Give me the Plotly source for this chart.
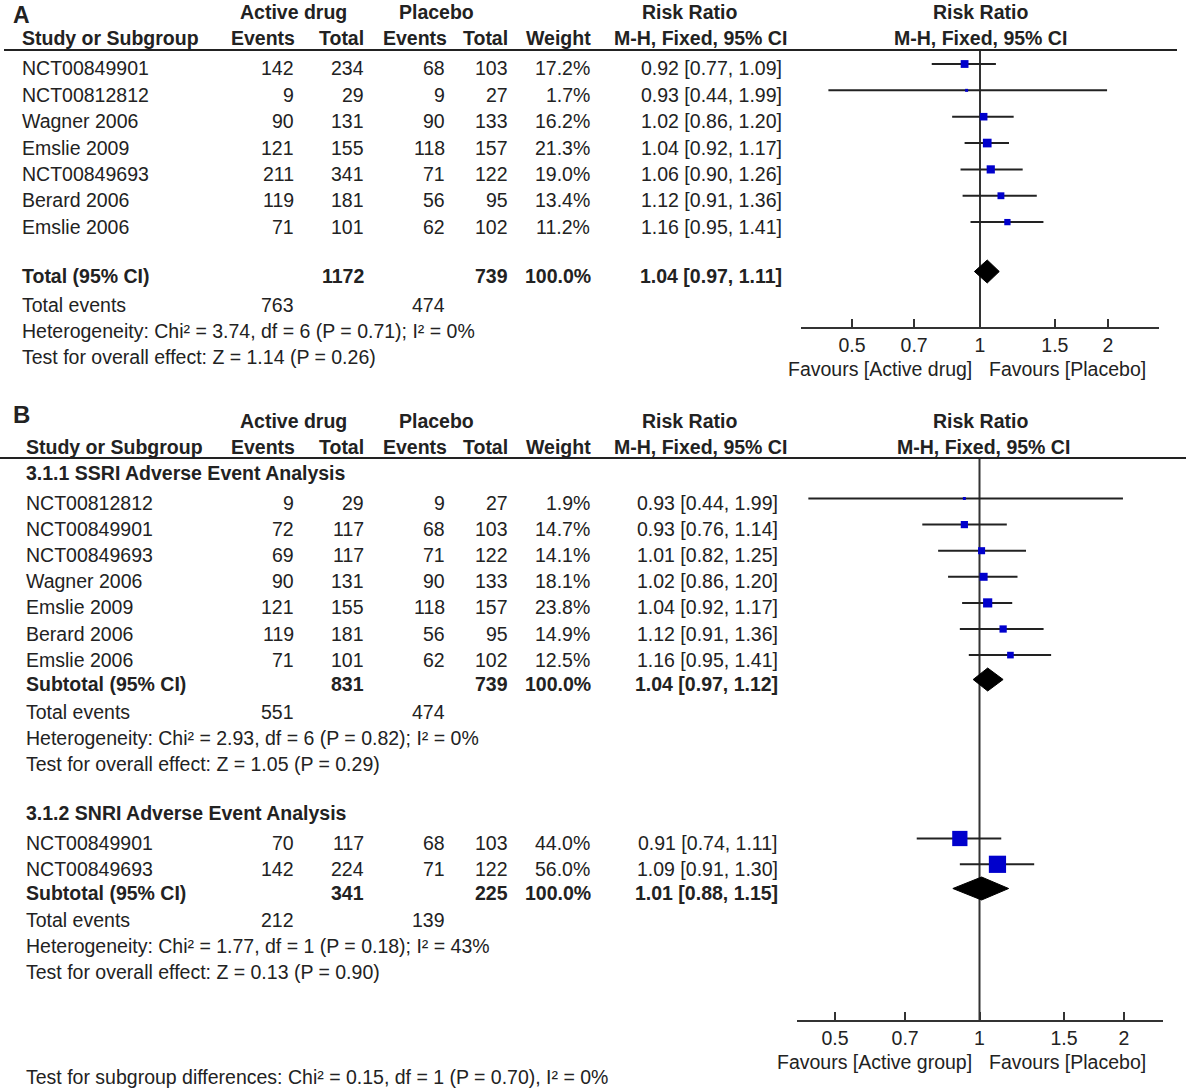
import math
import plotly.graph_objects as go

W, H = 1186, 1090

# ---------------- DATA ----------------
# Panel A
A_study = ["NCT00849901", "NCT00812812", "Wagner 2006", "Emslie 2009", "NCT00849693", "Berard 2006", "Emslie 2006"]
A_ev_act = [142, 9, 90, 121, 211, 119, 71]
A_tot_act = [234, 29, 131, 155, 341, 181, 101]
A_ev_pl = [68, 9, 90, 118, 71, 56, 62]
A_tot_pl = [103, 27, 133, 157, 122, 95, 102]
A_weight = [17.2, 1.7, 16.2, 21.3, 19.0, 13.4, 11.2]
A_rr = [0.92, 0.93, 1.02, 1.04, 1.06, 1.12, 1.16]
A_lo = [0.77, 0.44, 0.86, 0.92, 0.90, 0.91, 0.95]
A_hi = [1.09, 1.99, 1.20, 1.17, 1.26, 1.36, 1.41]
A_total = dict(tot_act=1172, tot_pl=739, weight=100.0, rr=1.04, lo=0.97, hi=1.11, ev_act=763, ev_pl=474)
A_het = "Heterogeneity: Chi² = 3.74, df = 6 (P = 0.71); I² = 0%"
A_test = "Test for overall effect: Z = 1.14 (P = 0.26)"

# Panel B, subgroup 3.1.1
S1_name = "3.1.1 SSRI Adverse Event Analysis"
S1_study = ["NCT00812812", "NCT00849901", "NCT00849693", "Wagner 2006", "Emslie 2009", "Berard 2006", "Emslie 2006"]
S1_ev_act = [9, 72, 69, 90, 121, 119, 71]
S1_tot_act = [29, 117, 117, 131, 155, 181, 101]
S1_ev_pl = [9, 68, 71, 90, 118, 56, 62]
S1_tot_pl = [27, 103, 122, 133, 157, 95, 102]
S1_weight = [1.9, 14.7, 14.1, 18.1, 23.8, 14.9, 12.5]
S1_rr = [0.93, 0.93, 1.01, 1.02, 1.04, 1.12, 1.16]
S1_lo = [0.44, 0.76, 0.82, 0.86, 0.92, 0.91, 0.95]
S1_hi = [1.99, 1.14, 1.25, 1.20, 1.17, 1.36, 1.41]
S1_total = dict(tot_act=831, tot_pl=739, weight=100.0, rr=1.04, lo=0.97, hi=1.12, ev_act=551, ev_pl=474)
S1_het = "Heterogeneity: Chi² = 2.93, df = 6 (P = 0.82); I² = 0%"
S1_test = "Test for overall effect: Z = 1.05 (P = 0.29)"

# Panel B, subgroup 3.1.2
S2_name = "3.1.2 SNRI Adverse Event Analysis"
S2_study = ["NCT00849901", "NCT00849693"]
S2_ev_act = [70, 142]
S2_tot_act = [117, 224]
S2_ev_pl = [68, 71]
S2_tot_pl = [103, 122]
S2_weight = [44.0, 56.0]
S2_rr = [0.91, 1.09]
S2_lo = [0.74, 0.91]
S2_hi = [1.11, 1.30]
S2_total = dict(tot_act=341, tot_pl=225, weight=100.0, rr=1.01, lo=0.88, hi=1.15, ev_act=212, ev_pl=139)
S2_het = "Heterogeneity: Chi² = 1.77, df = 1 (P = 0.18); I² = 43%"
S2_test = "Test for overall effect: Z = 0.13 (P = 0.90)"

B_subgroup_test = "Test for subgroup differences: Chi² = 0.15, df = 1 (P = 0.70), I² = 0%"

tick_vals = [0.5, 0.7, 1, 1.5, 2]
tick_text = ["0.5", "0.7", "1", "1.5", "2"]

# ---------------- STYLE ----------------
FONT = "Liberation Sans, Arial, sans-serif"
TXT = "#222222"
FS = 19.5
BLUE = "#0000CC"
LINE = "#222222"

ann = []
shapes = []


def txt(s, x, y, anchor="left", bold=False, size=FS, yanchor="middle"):
    ann.append(dict(text=(f"<b>{s}</b>" if bold else s), x=x / W, y=1 - y / H,
                    xref="paper", yref="paper", xanchor=anchor, yanchor=yanchor,
                    showarrow=False, font=dict(family=FONT, size=size, color=TXT)))


def hline(y, x0, x1):
    shapes.append(dict(type="line", xref="paper", yref="paper", x0=x0 / W, x1=x1 / W,
                       y0=1 - y / H, y1=1 - y / H, line=dict(color=LINE, width=2)))


# column right edges
C_EVA, C_TOA, C_EVP, C_TOP, C_W = 296, 366, 447, 510, 592


def ci(rr, lo, hi):
    return f"{rr:.2f} [{lo:.2f}, {hi:.2f}]"


def header(y1, y2, name_x, mh_center):
    txt("Active drug", 293, y1, "center", True)
    txt("Placebo", 437, y1, "center", True)
    txt("Risk Ratio", 689, y1, "center", True)
    txt("Risk Ratio", 980, y1, "center", True)
    txt("Study or Subgroup", name_x, y2, "left", True)
    txt("Events", 297, y2, "right", True)
    txt("Total", 366, y2, "right", True)
    txt("Events", 449, y2, "right", True)
    txt("Total", 510, y2, "right", True)
    txt("Weight", 593, y2, "right", True)
    txt("M-H, Fixed, 95% CI", 789, y2, "right", True)
    txt("M-H, Fixed, 95% CI", mh_center, y2, "center", True)


def study_rows(ys, name_x, ci_x, study, eva, toa, evp, top, w, rr, lo, hi):
    for i, y in enumerate(ys):
        txt(study[i], name_x, y)
        txt(str(eva[i]), C_EVA, y, "right")
        txt(str(toa[i]), C_TOA, y, "right")
        txt(str(evp[i]), C_EVP, y, "right")
        txt(str(top[i]), C_TOP, y, "right")
        txt(f"{w[i]:.1f}%", C_W, y, "right")
        txt(ci(rr[i], lo[i], hi[i]), ci_x, y, "right")


def total_rows(label, y_tot, y_ev, y_het, y_test, name_x, ci_x, tot, het, test):
    txt(label, name_x, y_tot, "left", True)
    txt(str(tot["tot_act"]), C_TOA, y_tot, "right", True)
    txt(str(tot["tot_pl"]), C_TOP, y_tot, "right", True)
    txt(f"{tot['weight']:.1f}%", C_W + 1, y_tot, "right", True)
    txt(ci(tot["rr"], tot["lo"], tot["hi"]), ci_x, y_tot, "right", True)
    txt("Total events", name_x, y_ev)
    txt(str(tot["ev_act"]), C_EVA, y_ev, "right")
    txt(str(tot["ev_pl"]), C_EVP, y_ev, "right")
    txt(het, name_x, y_het)
    txt(test, name_x, y_test)


# ---------------- PANEL A TABLE ----------------
txt("A", 11, 0, "left", True, 23, "top")
header(12, 38, 20, 980)
hline(50, 4, 1177)
A_y = [68.5 + 26.35 * i for i in range(len(A_study))]
study_rows(A_y, 20, 784, A_study, A_ev_act, A_tot_act, A_ev_pl, A_tot_pl, A_weight, A_rr, A_lo, A_hi)
A_ytot = 276
total_rows("Total (95% CI)", A_ytot, 305, 331, 357, 20, 784, A_total, A_het, A_test)

# ---------------- PANEL B TABLE ----------------
txt("B", 11, 414, "left", True, 24)
header(421, 447, 24, 983)
hline(458, 0, 1186)
txt(S1_name, 24, 473, "left", True)
S1_y = [503 + 26.1 * i for i in range(len(S1_study))]
study_rows(S1_y, 24, 780, S1_study, S1_ev_act, S1_tot_act, S1_ev_pl, S1_tot_pl, S1_weight, S1_rr, S1_lo, S1_hi)
S1_ytot = 684
total_rows("Subtotal (95% CI)", S1_ytot, 712, 738, 764, 24, 780, S1_total, S1_het, S1_test)
txt(S2_name, 24, 813, "left", True)
S2_y = [843 + 25.8 * i for i in range(len(S2_study))]
study_rows(S2_y, 24, 780, S2_study, S2_ev_act, S2_tot_act, S2_ev_pl, S2_tot_pl, S2_weight, S2_rr, S2_lo, S2_hi)
S2_ytot = 893
total_rows("Subtotal (95% CI)", S2_ytot, 920, 946, 972, 24, 780, S2_total, S2_het, S2_test)
txt(B_subgroup_test, 24, 1077)

# ---------------- FOREST PLOTS ----------------
fig = go.Figure()
MARK_UP = 4.5   # marks sit slightly above text centre
DIA_H = 11.5


def forest(xa, ya, ys, rr, lo, hi, w, k):
    cx, cy = [], []
    for i, y in enumerate(ys):
        cx += [lo[i], hi[i], None]
        cy += [y - MARK_UP, y - MARK_UP, None]
    fig.add_trace(go.Scatter(x=cx, y=cy, mode="lines", line=dict(color=LINE, width=2),
                             xaxis=xa, yaxis=ya, hoverinfo="skip", cliponaxis=False))
    fig.add_trace(go.Scatter(x=rr, y=[y - MARK_UP for y in ys], mode="markers",
                             marker=dict(symbol="square", color=BLUE, opacity=1,
                                         size=[max(3, k * math.sqrt(v)) for v in w],
                                         line=dict(width=0)),
                             xaxis=xa, yaxis=ya, cliponaxis=False))


def diamond(xa, ya, y, tot):
    yc = y - MARK_UP
    fig.add_trace(go.Scatter(x=[tot["lo"], tot["rr"], tot["hi"], tot["rr"], tot["lo"]],
                             y=[yc, yc - DIA_H, yc, yc + DIA_H, yc], mode="lines",
                             fill="toself", fillcolor="black", line=dict(color="black", width=1),
                             xaxis=xa, yaxis=ya, cliponaxis=False))


def vline(xa, ya, y0, y1):
    fig.add_trace(go.Scatter(x=[1, 1], y=[y0, y1], mode="lines", line=dict(color="#333333", width=2),
                             xaxis=xa, yaxis=ya, hoverinfo="skip", cliponaxis=False))


# Panel A: axis line at y=327, plot top at header line y=50
A_top, A_bot = 50, 327
vline("x", "y", A_top, A_bot)
forest("x", "y", A_y, A_rr, A_lo, A_hi, A_weight, 1.88)
diamond("x", "y", A_ytot, A_total)

B_top, B_bot = 458, 1020
vline("x2", "y2", B_top, B_bot)
forest("x2", "y2", S1_y, S1_rr, S1_lo, S1_hi, S1_weight, 1.88)
diamond("x2", "y2", S1_ytot, S1_total)
forest("x2", "y2", S2_y, S2_rr, S2_lo, S2_hi, S2_weight, 2.3)
diamond("x2", "y2", S2_ytot, S2_total)

# Favours labels
for xa, y, left in (("x", 369, "Favours [Active drug]"), ("x2", 1062, "Favours [Active group]")):
    ann.append(dict(text=left, x=0, y=1 - y / H, xref=xa, yref="paper", xanchor="right", xshift=-6,
                    yanchor="middle", showarrow=False, font=dict(family=FONT, size=FS, color=TXT)))
    ann.append(dict(text="Favours [Placebo]", x=0, y=1 - y / H, xref=xa, yref="paper", xanchor="left",
                    xshift=7, yanchor="middle", showarrow=False, font=dict(family=FONT, size=FS, color=TXT)))

axis_common = dict(type="log", tickvals=tick_vals, ticktext=tick_text, showline=True,
                   linecolor="#333333", linewidth=2, ticks="inside", ticklen=8, tickwidth=2,
                   tickcolor="#333333", showgrid=False, zeroline=False, ticklabelstandoff=0,
                   tickfont=dict(family=FONT, size=FS, color=TXT), fixedrange=True)
yaxis_common = dict(visible=False, showgrid=False, zeroline=False, fixedrange=True)

fig.update_layout(
    width=W, height=H, margin=dict(l=0, r=0, t=0, b=0),
    paper_bgcolor="white", plot_bgcolor="rgba(0,0,0,0)", showlegend=False,
    xaxis=dict(domain=[801 / W, 1159 / W], range=[-0.421, 0.421], anchor="y", **axis_common),
    yaxis=dict(domain=[1 - A_bot / H, 1 - A_top / H], range=[A_bot, A_top], anchor="x", **yaxis_common),
    xaxis2=dict(domain=[797 / W, 1163 / W], range=[-0.3802, 0.3823], anchor="y2", **axis_common),
    yaxis2=dict(domain=[1 - B_bot / H, 1 - B_top / H], range=[B_bot, B_top], anchor="x2", **yaxis_common),
    annotations=ann, shapes=shapes,
)

fig.write_html("out.html", config={"displayModeBar": False},
               post_script="document.body.style.margin='0';document.body.style.overflow='hidden';")
